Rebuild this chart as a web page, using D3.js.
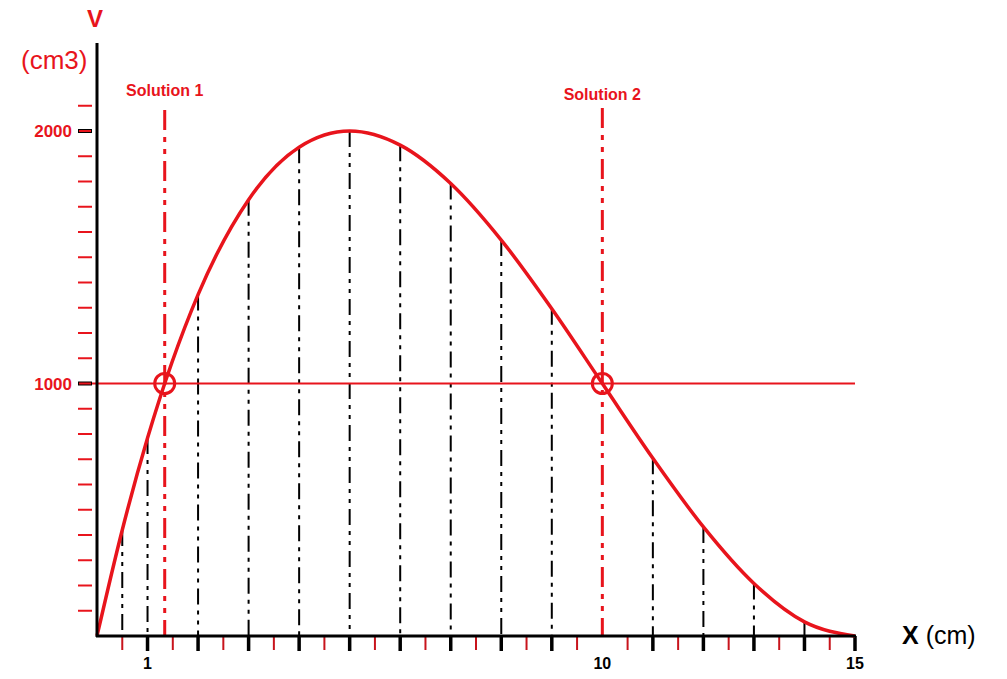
<!DOCTYPE html>
<html>
<head>
<meta charset="utf-8">
<script src="https://cdnjs.cloudflare.com/ajax/libs/d3/7.8.5/d3.min.js"></script>
<style>
  body { margin: 0; background: #fff; }
  text { font-family: "Liberation Sans", Arial, sans-serif; }
</style>
</head>
<body>
<svg id="chart" width="1007" height="679"></svg>
<script>
// values
var xValues = [0, 0.5, 1, 2, 3, 4, 5, 6, 7, 8, 9, 10, 11, 12, 13, 14, 15];
var volumes = [0, 420, 784, 1352, 1728, 1936, 2000, 1944, 1792, 1568, 1296, 1000, 704, 432, 208, 56, 0];
var solutions = [1.34, 10];
var solutionLabels = ["Solution 1", "Solution 2"];
var target = 1000;
var xLabels = [1, 10, 15];
var yLabels = [1000, 2000];

var red = "#e8141c";
var svg = d3.select("#chart");

var x = d3.scaleLinear().domain([0, 15]).range([97, 855]);
var y = d3.scaleLinear().domain([0, 2000]).range([636, 131]);

// y ticks every 100
var yTicks = d3.range(100, 2200, 100);
svg.selectAll(".ytick").data(yTicks).enter().append("line")
  .attr("x1", 78).attr("x2", 92)
  .attr("y1", function(d) { return y(d); }).attr("y2", function(d) { return y(d); })
  .attr("stroke", function(d) { return d % 1000 == 0 ? "#000" : red; })
  .attr("stroke-width", function(d) { return d % 1000 == 0 ? 4 : 2; });
svg.selectAll(".ytick2").data(yLabels).enter().append("line")
  .attr("x1", 79).attr("x2", 91)
  .attr("y1", function(d) { return y(d); }).attr("y2", function(d) { return y(d); })
  .attr("stroke", red).attr("stroke-width", 2);

// x ticks: half units red, whole units black
var halfTicks = d3.range(0.5, 15, 1);
svg.selectAll(".xhalf").data(halfTicks).enter().append("line")
  .attr("x1", function(d) { return x(d); }).attr("x2", function(d) { return x(d); })
  .attr("y1", 636).attr("y2", 650)
  .attr("stroke", "#c8141c").attr("stroke-width", 2);
var wholeTicks = d3.range(1, 16).filter(function(d) { return d != 10; });
svg.selectAll(".xwhole").data(wholeTicks).enter().append("line")
  .attr("x1", function(d) { return x(d); }).attr("x2", function(d) { return x(d); })
  .attr("y1", 636).attr("y2", 651)
  .attr("stroke", "#000").attr("stroke-width", 3.5);

// dash-dot drop lines from the curve
var drops = xValues.map(function(d, i) { return [d, volumes[i]]; })
  .filter(function(p) { return p[0] > 0 && p[0] != 10 && p[0] < 15; });
svg.selectAll(".drop").data(drops).enter().append("line")
  .attr("x1", function(d) { return x(d[0]); }).attr("x2", function(d) { return x(d[0]); })
  .attr("y1", function(d) { return y(d[1]); }).attr("y2", 636)
  .attr("stroke", "#000").attr("stroke-width", 2)
  .attr("stroke-dasharray", "16,6,4,6,4,6");

// horizontal target line
svg.append("line")
  .attr("x1", 92).attr("x2", 855)
  .attr("y1", y(target)).attr("y2", y(target))
  .attr("stroke", red).attr("stroke-width", 2);

// solution lines
svg.selectAll(".sol").data(solutions).enter().append("line")
  .attr("x1", function(d) { return x(d); }).attr("x2", function(d) { return x(d); })
  .attr("y1", function(d, i) { return i == 0 ? 110 : 108; }).attr("y2", 636)
  .attr("stroke", red).attr("stroke-width", 3)
  .attr("stroke-dasharray", "20,7,5,7,5,7");

svg.selectAll(".solLabel").data(solutions).enter().append("text")
  .attr("x", function(d) { return x(d); })
  .attr("y", function(d, i) { return i == 0 ? 96 : 100; })
  .attr("text-anchor", "middle")
  .attr("fill", red).attr("font-size", 16).attr("font-weight", "bold")
  .text(function(d, i) { return solutionLabels[i]; });

// curve
var line = d3.line()
  .x(function(d, i) { return x(xValues[i]); })
  .y(function(d) { return y(d); })
  .curve(d3.curveMonotoneX);
svg.append("path")
  .attr("d", line(volumes))
  .attr("fill", "none").attr("stroke", red).attr("stroke-width", 3.5)
  .attr("stroke-linejoin", "round");

// circles at the solutions
svg.selectAll(".solCircle").data(solutions).enter().append("circle")
  .attr("cx", function(d) { return x(d); }).attr("cy", y(target))
  .attr("r", 10).attr("fill", "none").attr("stroke", red).attr("stroke-width", 3);

// axes
svg.append("line").attr("x1", 97).attr("x2", 97).attr("y1", 43).attr("y2", 637)
  .attr("stroke", "#000").attr("stroke-width", 3);
svg.append("line").attr("x1", 96).attr("x2", 856).attr("y1", 636).attr("y2", 636)
  .attr("stroke", "#000").attr("stroke-width", 3);

// labels
svg.selectAll(".ylab").data(yLabels).enter().append("text")
  .attr("x", 72).attr("y", function(d) { return y(d) + 6; })
  .attr("text-anchor", "end")
  .attr("fill", red).attr("font-size", 17).attr("font-weight", "bold")
  .text(function(d) { return d; });
svg.selectAll(".xlab").data(xLabels).enter().append("text")
  .attr("x", function(d) { return x(d); }).attr("y", 669)
  .attr("text-anchor", "middle")
  .attr("fill", "#000").attr("font-size", 16).attr("font-weight", "bold")
  .text(function(d) { return d; });

svg.append("text").attr("x", 95).attr("y", 27).attr("text-anchor", "middle")
  .attr("fill", red).attr("font-size", 24).attr("font-weight", "bold").text("V");
svg.append("text").attr("x", 21).attr("y", 69)
  .attr("fill", red).attr("font-size", 26).text("(cm3)");

var xt = svg.append("text").attr("x", 902).attr("y", 644).attr("font-size", 25).attr("fill", "#000");
xt.append("tspan").attr("font-weight", "bold").text("X");
xt.append("tspan").text(" (cm)");
</script>
</body>
</html>
